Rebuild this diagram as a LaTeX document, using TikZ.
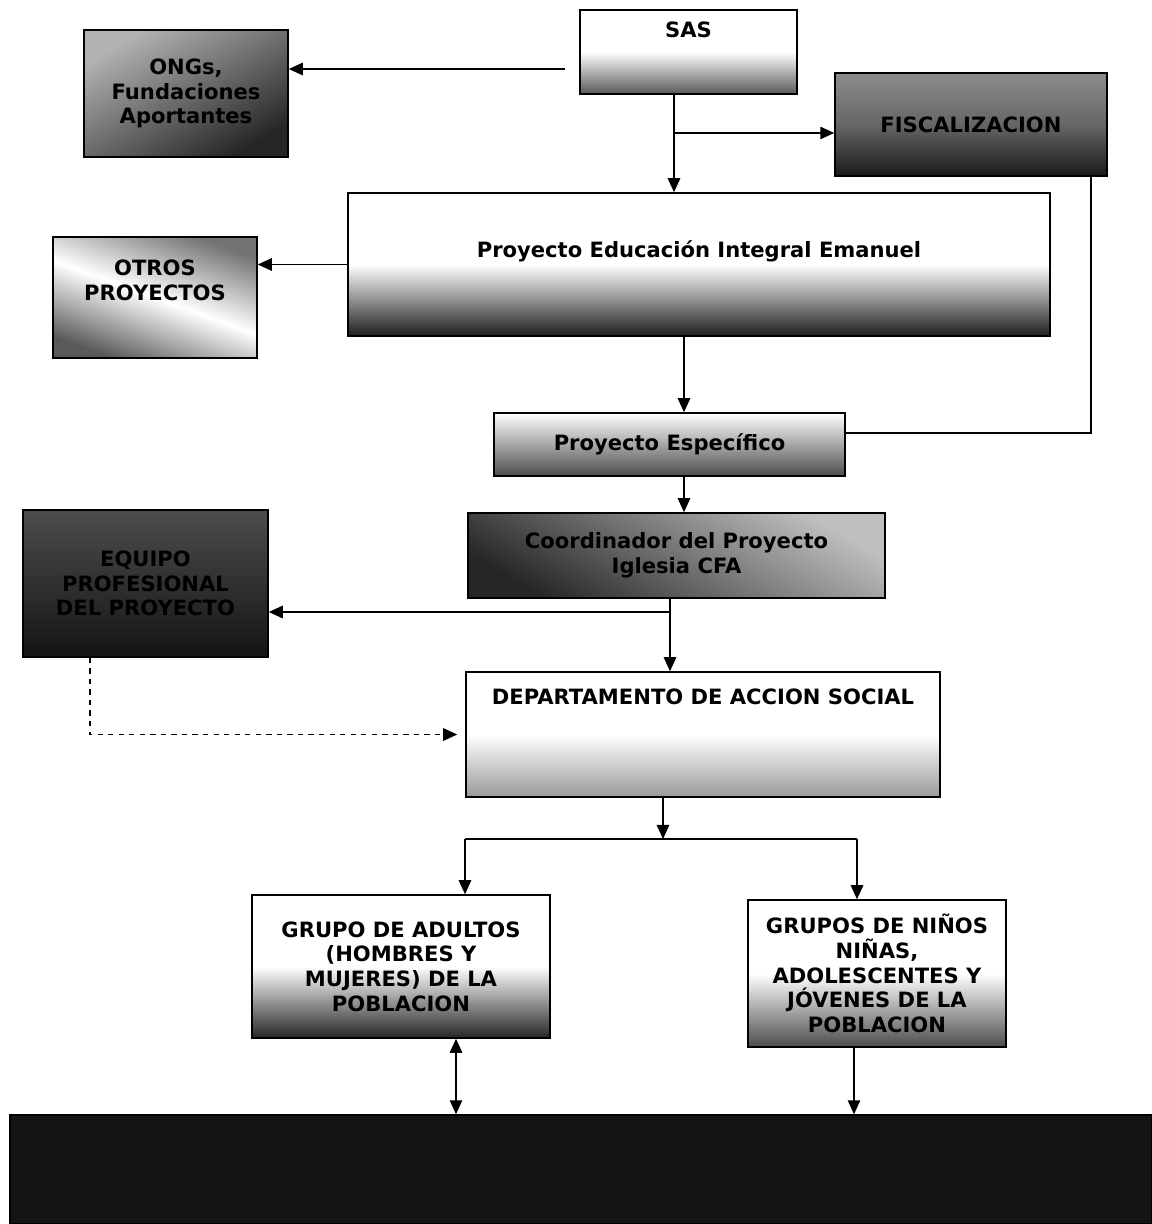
\documentclass[tikz,border=0pt]{standalone}
\usepackage{fontspec}
\setmainfont{DejaVu Sans}
\usetikzlibrary{arrows.meta}

\begin{document}
\begin{tikzpicture}[
    font=\bfseries\fontsize{12}{14}\selectfont,
    >={Triangle[length=8pt,width=7pt]},
    box/.style={
        draw=black,
        line width=0.8pt,
        align=center,
        inner sep=2pt
    },
    link/.style={
        line width=1.1pt
    }
]

\useasboundingbox (0,0) rectangle (23.04,-24.48);

\node[box, minimum width=4.34cm, minimum height=1.68cm, text depth=0.9cm,
      top color=white, bottom color=black!65, middle color=white] (sas) at (13.77,-1.04) {SAS};
\node[box, minimum width=4.08cm, minimum height=2.54cm,
      top color=black!30, bottom color=black!85, shading angle=30] (ongs) at (3.72,-1.87) {ONGs,\\Fundaciones\\Aportantes};
\node[box, minimum width=5.44cm, minimum height=2.06cm,
      top color=black!45, bottom color=black!90, middle color=black!60] (fisc) at (19.42,-2.49) {FISCALIZACION};

\node[box, minimum width=14.04cm, minimum height=2.86cm, text depth=0.6cm,
      top color=white, bottom color=black!88, middle color=white] (pei) at (13.98,-5.29) {Proyecto Educación Integral Emanuel};
\node[box, minimum width=4.08cm, minimum height=2.42cm, text depth=0.7cm,
      top color=black!55, bottom color=black!65, middle color=white, shading angle=-20] (otros) at (3.10,-5.95) {OTROS\\PROYECTOS};

\node[box, minimum width=7.02cm, minimum height=1.26cm,
      top color=white, bottom color=black!70] (pe) at (13.39,-8.89) {Proyecto Específico};
\node[box, minimum width=8.34cm, minimum height=1.70cm,
      top color=black!25, bottom color=black!85, shading angle=-30] (coord) at (13.53,-11.11) {Coordinador del Proyecto\\Iglesia CFA};
\node[box, minimum width=4.90cm, minimum height=2.94cm,
      top color=black!70, bottom color=black!92] (equipo) at (2.91,-11.67) {EQUIPO\\PROFESIONAL\\DEL PROYECTO};

\node[box, minimum width=9.48cm, minimum height=2.50cm, text depth=1.5cm,
      top color=white, bottom color=black!40, middle color=white] (das) at (14.06,-14.69) {DEPARTAMENTO DE ACCION SOCIAL};

\node[box, minimum width=5.96cm, minimum height=2.86cm,
      top color=white, bottom color=black!85, middle color=white] (adults) at (8.02,-19.33) {GRUPO DE ADULTOS\\(HOMBRES Y\\MUJERES) DE LA\\POBLACION};
\node[box, minimum width=5.16cm, minimum height=2.94cm,
      top color=white, bottom color=black!70, middle color=white] (kids) at (17.54,-19.47) {GRUPOS DE NIÑOS\\NIÑAS,\\ADOLESCENTES Y\\JÓVENES DE LA\\POBLACION};

\node[box, minimum width=22.84cm, minimum height=2.18cm, fill=black!92] (base) at (11.62,-23.39) {};

% turning points of the connectors
\coordinate (sasout) at ([xshift=-0.28cm,yshift=-0.34cm]sas.west);
\coordinate (sasbot) at (13.48,-1.88);
\coordinate (sasfork) at (13.48,-2.66);
\coordinate (fiscdown) at (21.82,-8.66);
\coordinate (stemA) at (13.68,0);
\coordinate (stemB) at (13.40,0);
\coordinate (coordfork) at (13.40,-12.24);
\coordinate (dashx) at (1.80,0);
\coordinate (dasfork) at (13.26,-16.78);
\coordinate (forkL) at (9.30,-16.78);
\coordinate (forkR) at (17.14,-16.78);
\coordinate (linkL) at (9.12,0);
\coordinate (linkR) at (17.08,0);

\draw[->, link] (sasout) -- (sasout -| ongs.east);
\draw[->, link] (sasbot) -- (sasbot |- pei.north);
\draw[->, link] (sasfork) -- (sasfork -| fisc.west);
\draw[link] (fiscdown |- fisc.south) -- (fiscdown) -- (fiscdown -| pe.east);

\draw[->, link] (pei.west) -- (pei.west -| otros.east);
\draw[->, link] (stemA |- pei.south) -- (stemA |- pe.north);
\draw[->, link] (stemA |- pe.south) -- (stemA |- coord.north);

\draw[->, link] (stemB |- coord.south) -- (stemB |- das.north);
\draw[->, link] (coordfork) -- (coordfork -| equipo.east);
\draw[->, link, dashed, shorten >=0.16cm] (dashx |- equipo.south) -- (dashx |- das.west) -- (das.west);

\draw[->, link] (dasfork |- das.south) -- (dasfork);
\draw[link] (forkL) -- (forkR);
\draw[->, link] (forkL) -- (forkL |- adults.north);
\draw[->, link] (forkR) -- (forkR |- kids.north);

\draw[<->, link] (linkL |- adults.south) -- (linkL |- base.north);
\draw[->, link] (linkR |- kids.south) -- (linkR |- base.north);

\end{tikzpicture}
\end{document}
